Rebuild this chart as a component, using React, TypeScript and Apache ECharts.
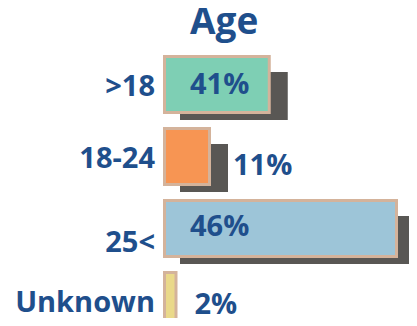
import React, { useEffect, useRef } from "react";
import * as echarts from "echarts";

const categories = [">18", "18-24", "25<", "Unknown"];
const percentLabels = ["41%", "11%", "46%", "2%"];
// drawn bar lengths (axis units 0-100)
const barLengths = [43.1, 19.2, 94, 5.8];
const barColors = ["#7ecfb4", "#f79553", "#9dc5d8", "#ead98a"];
const hasShadow = [true, true, true, false];
const labelNudgeY = [-2, 7, -4, 1.5];

const BLUE = "#1f4f8c";
const FONT = "Open Sans";

export default function App() {
  const ref = useRef<HTMLDivElement>(null);
  useEffect(() => {
    if (!ref.current) return;
    const chart = echarts.init(ref.current, null, { renderer: "svg" });
    chart.setOption({
      animation: false,
      title: {
        text: "Age",
        left: 190,
        top: 1,
        padding: 0,
        textStyle: { color: BLUE, fontFamily: FONT, fontWeight: "bold", fontSize: 37 },
      },
      grid: { left: 163, top: 48.5, width: 250, height: 288 },
      xAxis: { type: "value", min: 0, max: 100, show: false },
      yAxis: {
        type: "category",
        inverse: true,
        data: categories,
        axisLine: { show: false },
        axisTick: { show: false },
        splitLine: { show: false },
        axisLabel: {
          margin: 8,
          color: BLUE,
          fontFamily: FONT,
          fontWeight: "bold",
          fontSize: 29,
          formatter: (v: string) => (v === "25<" ? `{low|${v}}` : `{n|${v}}`),
          rich: {
            n: { color: BLUE, fontFamily: FONT, fontWeight: "bold", fontSize: 29 },
            low: { color: BLUE, fontFamily: FONT, fontWeight: "bold", fontSize: 29, padding: [24, 0, 0, 0] },
          },
        },
      },
      series: [
        {
          type: "custom",
          encode: { x: 1, y: 0 },
          data: categories.map((c, i) => [c, barLengths[i]]),
          renderItem: (params: any, api: any) => {
            const i = params.dataIndex;
            const cat = api.value(0);
            const len = api.value(1);
            const s = api.coord([0, cat]);
            const e = api.coord([len, cat]);
            const h = 59;
            const x0 = s[0];
            const w = e[0] - s[0];
            const yc = s[1];
            const top = yc - h / 2;
            const inside = w > 80;
            const children: any[] = [];
            if (hasShadow[i]) {
              children.push({
                type: "rect",
                shape: { x: x0 + 17, y: top + 17, width: w, height: h - 11 },
                style: { fill: "#595754" },
              });
            }
            children.push(
              {
                type: "rect",
                shape: { x: x0 + 1.5, y: top + 1.5, width: w - 3, height: h - 3 },
                style: { fill: barColors[i], stroke: "#d4b39b", lineWidth: 3 },
              },
              {
                type: "text",
                style: {
                  text: percentLabels[i],
                  x: inside ? x0 + 27 : e[0] + (w > 30 ? 22 : 17),
                  y: yc + labelNudgeY[i],
                  align: "left",
                  verticalAlign: "middle",
                  fill: BLUE,
                  font: `bold 29px "${FONT}"`,
                },
              }
            );
            return { type: "group", children };
          },
        },
      ],
    });
    return () => chart.dispose();
  }, []);
  return (
    <div style={{ width: 417, height: 326, margin: -8, overflow: "hidden" }}>
      <div ref={ref} style={{ width: 417, height: 345 }} />
    </div>
  );
}
